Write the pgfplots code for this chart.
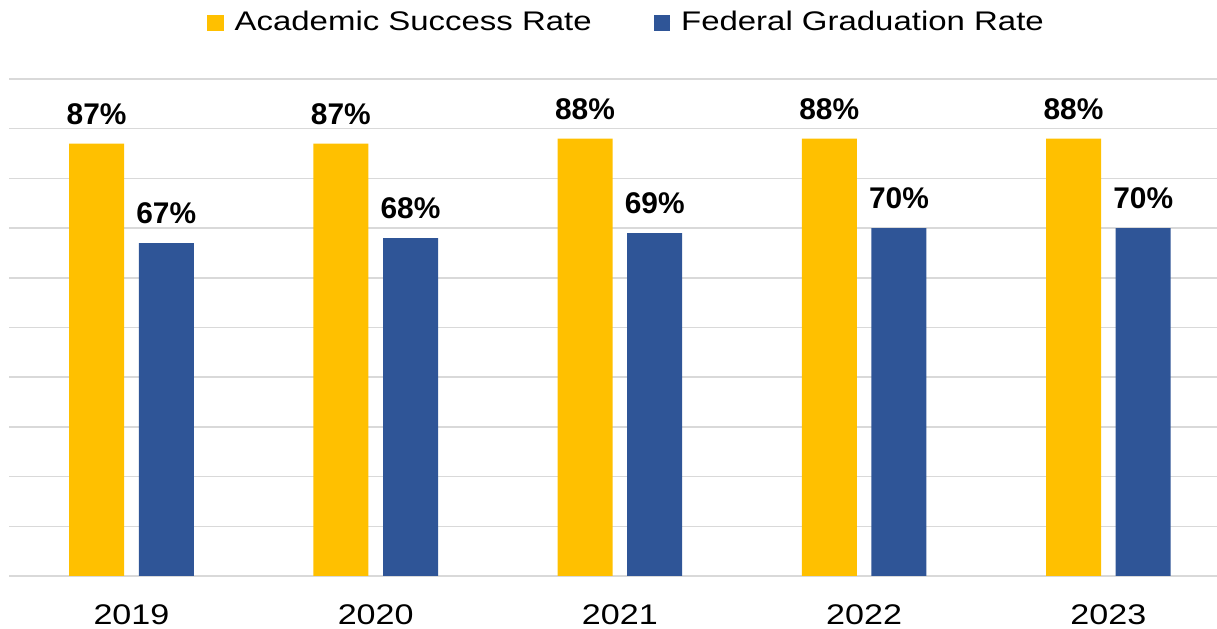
\documentclass[border=0pt]{standalone}
\usepackage{pgfplots}
\pgfplotsset{compat=1.18}
\usepackage{fontspec}
\setmainfont{Liberation Sans}
\newfontfamily\widefont[FakeStretch=1.2]{Liberation Sans}
\newfontfamily\legfont[FakeStretch=1.225]{Liberation Sans}
\definecolor{asr}{HTML}{FFC000}
\definecolor{fgr}{HTML}{2F5597}
\definecolor{gridgray}{HTML}{D9D9D9}
\begin{document}
\begin{tikzpicture}
\begin{axis}[
  at={(9.3bp,53bp)}, anchor=south west,
  scale only axis, width=1207.7bp, height=497bp,
  xmin=-0.5, xmax=4.445, ymin=0, ymax=100,
  ybar, bar width=55bp,
  /pgf/number format/assume math mode=true,
  xtick={0,1,2,3,4}, xticklabels={2019,2020,2021,2022,2023},
  ytick={0,10,...,100}, yticklabels={},
  ymajorgrids, grid style={line width=1.5bp, color=gridgray},
  axis line style={draw=none}, major tick length=0pt, tick style={draw=none},
  xticklabel style={font=\widefont\fontsize{28.5}{28.5}\selectfont, anchor=base, yshift=-48.5bp, inner sep=0pt},
  nodes near coords={\pgfmathprintnumber{\pgfplotspointmeta}\%},
  every node near coord/.append style={font=\bfseries\fontsize{30}{30}\selectfont, anchor=base, yshift=19.5bp, inner sep=0pt, text=black},
  legend style={draw=none, fill=none, at={(0.1639,1.0)}, anchor=south west, yshift=45bp,
    font=\legfont\fontsize{27}{27}\selectfont, legend columns=2, inner sep=0pt, outer sep=0pt,
    /tikz/every odd column/.append style={column sep=9bp},
    /tikz/every even column/.append style={column sep=60bp}},
  legend cell align=left,
  legend image code/.code={\path (0bp,0bp) -- (16.4bp,0bp); \fill[#1,overlay] (0bp,-9.6bp) rectangle (16.4bp,6.8bp);},
]
\addplot[fill=asr, draw=none, bar shift=-34.85bp] coordinates {(0,87) (1,87) (2,88) (3,88) (4,88)};
\addlegendentry{Academic Success Rate}
\addplot[fill=fgr, draw=none, bar shift=34.85bp] coordinates {(0,67) (1,68) (2,69) (3,70) (4,70)};
\addlegendentry{Federal Graduation Rate}
\end{axis}
\pgfresetboundingbox
\path (0,0) rectangle (1217bp,629bp);
\end{tikzpicture}
\end{document}
